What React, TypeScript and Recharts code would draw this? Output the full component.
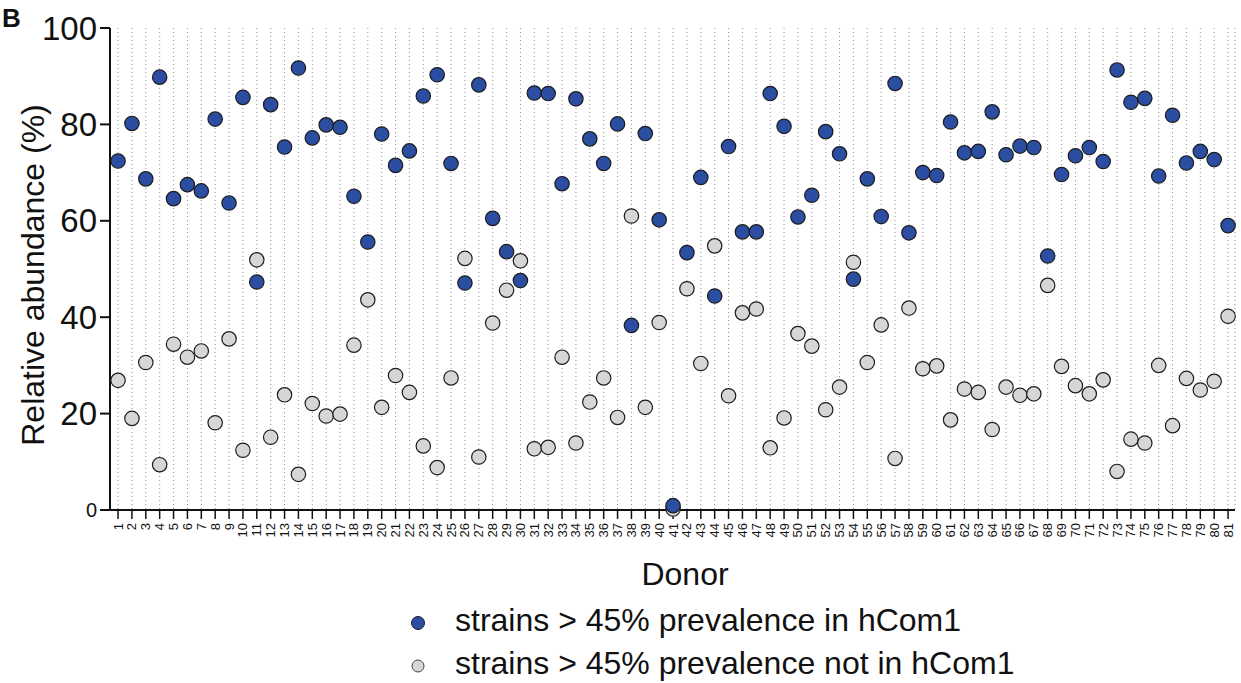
import React from 'react';
import { ScatterChart, Scatter, XAxis, YAxis, CartesianGrid, Legend } from 'recharts';

const DONORS = [
  1, 2, 3, 4, 5, 6, 7, 8, 9, 10, 11, 12, 13, 14, 15, 16, 17, 18, 19, 20,
  21, 22, 23, 24, 25, 26, 27, 28, 29, 30, 31, 32, 33, 34, 35, 36, 37, 38, 39, 40,
  41, 42, 43, 44, 45, 46, 47, 48, 49, 50, 51, 52, 53, 54, 55, 56, 57, 58, 59, 60,
  61, 62, 63, 64, 65, 66, 67, 68, 69, 70, 71, 72, 73, 74, 75, 76, 77, 78, 79, 80, 81,
];

// strains > 45% prevalence in hCom1
const IN_HCOM1 = [
  72.4, 80.2, 68.7, 89.8, 64.6, 67.5, 66.2, 81.1, 63.7, 85.6,
  47.3, 84.1, 75.3, 91.7, 77.2, 79.9, 79.4, 65.1, 55.6, 78.0,
  71.5, 74.5, 85.9, 90.3, 71.9, 47.1, 88.2, 60.5, 53.6, 47.6,
  86.5, 86.4, 67.7, 85.3, 77.0, 71.9, 80.1, 38.3, 78.1, 60.2,
  0.9, 53.4, 69.0, 44.4, 75.4, 57.7, 57.7, 86.4, 79.6, 60.8,
  65.3, 78.5, 73.9, 47.9, 68.7, 60.9, 88.5, 57.5, 70.0, 69.4,
  80.5, 74.1, 74.4, 82.6, 73.7, 75.5, 75.2, 52.7, 69.6, 73.5,
  75.2, 72.3, 91.3, 84.6, 85.4, 69.3, 81.9, 72.0, 74.4, 72.7, 59.0,
];

// strains > 45% prevalence not in hCom1
const NOT_IN_HCOM1 = [
  26.9, 19.0, 30.6, 9.4, 34.4, 31.7, 33.0, 18.1, 35.5, 12.4,
  51.9, 15.1, 23.9, 7.4, 22.1, 19.5, 19.9, 34.2, 43.6, 21.3,
  27.9, 24.4, 13.3, 8.8, 27.4, 52.2, 11.0, 38.8, 45.6, 51.7,
  12.7, 13.0, 31.7, 13.9, 22.4, 27.4, 19.2, 61.0, 21.3, 38.9,
  0.2, 45.9, 30.4, 54.8, 23.7, 40.9, 41.7, 12.9, 19.1, 36.6,
  34.0, 20.8, 25.5, 51.4, 30.6, 38.4, 10.7, 41.9, 29.3, 29.9,
  18.7, 25.1, 24.4, 16.7, 25.5, 23.8, 24.1, 46.6, 29.8, 25.8,
  24.1, 27.0, 8.0, 14.7, 13.9, 30.0, 17.5, 27.3, 24.9, 26.7, 40.2,
];

const Y_TICKS = [0, 20, 40, 60, 80, 100];

const SERIES_NAMES = [
  'strains > 45% prevalence in hCom1',
  'strains > 45% prevalence not in hCom1',
];

const FONT = '"Liberation Sans", Arial, Helvetica, sans-serif';
const BLUE = '#2b4ea2';
const GREY = '#d6d6d6';
const INK = '#111';

const inData = DONORS.map((donor, i) => ({ donor, value: IN_HCOM1[i] }));
const notInData = DONORS.map((donor, i) => ({ donor, value: NOT_IN_HCOM1[i] }));

const dot = (fill: string) => (props: any) => (
  <circle cx={props.cx} cy={props.cy} r={7.2} fill={fill} stroke="#1c1c1c" strokeWidth={1.2} />
);

const XTick = (props: any) => {
  const { x, y, payload } = props;
  return (
    <text
      transform={`translate(${x},${y}) rotate(-90)`}
      textAnchor="end"
      dy="0.35em"
      fontSize={13}
      fontFamily={FONT}
      fill={INK}
    >
      {payload.value}
    </text>
  );
};

const YTick = (props: any) => {
  const { x, y, payload } = props;
  return (
    <text
      x={x}
      y={y}
      textAnchor="end"
      dy="0.35em"
      fontSize={payload.value === 0 ? 20 : 33}
      fontFamily={FONT}
      fill={INK}
    >
      {payload.value}
    </text>
  );
};

const LegendBox = () => (
  <div style={{ fontFamily: FONT, fontSize: 32, color: INK }}>
    {SERIES_NAMES.map((name, i) => (
      <div key={name} style={{ display: 'flex', height: 43, lineHeight: '43px', whiteSpace: 'nowrap' }}>
        <svg width={26} height={43} style={{ marginRight: 24 }}>
          <circle
            cx={13}
            cy={24}
            r={i === 0 ? 6.5 : 6}
            fill={i === 0 ? BLUE : GREY}
            stroke={i === 0 ? '#1c1c1c' : '#444'}
            strokeWidth={1}
          />
        </svg>
        <span>{name}</span>
      </div>
    ))}
  </div>
);

export default function App() {
  return (
    <div style={{ position: 'absolute', left: 0, top: 0, width: 1241, height: 683, background: '#fff' }}>
      <ScatterChart width={1241} height={683} margin={{ top: 28, right: 6, bottom: 133, left: 0 }}>
        <text x={2} y={27} fontSize={26} fontWeight="bold" fontFamily={FONT} fill={INK}>
          B
        </text>
        <CartesianGrid horizontal={false} stroke="#8f8f8f" strokeDasharray="1 3" />
        <XAxis
          type="number"
          dataKey="donor"
          domain={[0.42, 81.5]}
          ticks={DONORS}
          interval={0}
          height={40}
          axisLine={{ stroke: INK, strokeWidth: 2 }}
          tickLine={{ stroke: INK, strokeWidth: 1.5 }}
          tickSize={9}
          tickMargin={4}
          tick={(p: any) => <XTick {...p} />}
          label={() => (
            <text x={685} y={585} textAnchor="middle" fontSize={32} fontFamily={FONT} fill={INK}>
              Donor
            </text>
          )}
        />
        <YAxis
          type="number"
          dataKey="value"
          domain={[0, 100]}
          ticks={Y_TICKS}
          width={110}
          axisLine={{ stroke: INK, strokeWidth: 2 }}
          tickLine={{ stroke: INK, strokeWidth: 2 }}
          tickSize={10}
          tickMargin={3}
          tick={(p: any) => <YTick {...p} />}
          label={() => (
            <text
              transform="translate(33,275) rotate(-90)"
              textAnchor="middle"
              dy="0.35em"
              fontSize={32}
              fontFamily={FONT}
              fill={INK}
            >
              Relative abundance (%)
            </text>
          )}
        />
        <Legend
          layout="vertical"
          verticalAlign="middle"
          align="center"
          wrapperStyle={{ left: 405, top: 599, width: 700 }}
          content={() => <LegendBox />}
        />
        <Scatter name={SERIES_NAMES[1]} data={notInData} fill={GREY} shape={dot(GREY)} isAnimationActive={false} />
        <Scatter name={SERIES_NAMES[0]} data={inData} fill={BLUE} shape={dot(BLUE)} isAnimationActive={false} />
      </ScatterChart>
    </div>
  );
}
